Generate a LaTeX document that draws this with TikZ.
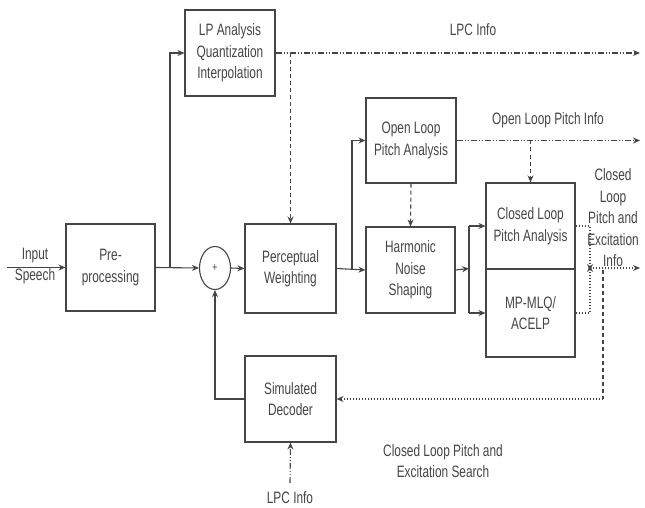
\documentclass[tikz,border=0pt]{standalone}
\usepackage{fontspec}
\setmainfont[FakeStretch=0.72]{Liberation Sans}
\usetikzlibrary{arrows.meta,shapes.geometric}
\definecolor{ink}{HTML}{454545}
\begin{document}
\begin{tikzpicture}[x=1pt,y=-1pt,
  every node/.style={font=\fontsize{16.5}{21.5}\selectfont,text=ink},
  blk/.style={draw=ink,line width=1.1pt,align=center,inner sep=0pt},
  lab/.style={align=center,inner sep=0pt},
  ln/.style={draw=ink,line width=1.1pt},
  arr/.style={ln,-{Stealth[length=7pt,width=6pt]}},
  ddot/.style={dash pattern=on 6pt off 2pt on 1pt off 2pt on 1pt off 2pt},
  dsh/.style={dash pattern=on 4pt off 3pt},
  dtt/.style={dash pattern=on 1.2pt off 1.8pt, line width=1.4pt}]
\useasboundingbox (0,0) rectangle (645,508);
% blocks
\node[blk,minimum width=89pt,minimum height=87pt] (pre) at (110.5,267.5) {Pre-\\processing};
\node[blk,minimum width=90pt,minimum height=86pt] (lp) at (230,53) {LP Analysis\\Quantization\\Interpolation};
\node[blk,minimum width=91pt,minimum height=89pt] (per) at (290.5,268.5) {Perceptual\\Weighting};
\node[blk,minimum width=90pt,minimum height=85pt] (ol) at (411,140.5) {Open Loop\\Pitch Analysis};
\node[blk,minimum width=89pt,minimum height=86pt] (hns) at (410.5,270) {Harmonic\\Noise\\Shaping};
\node[blk,minimum width=89pt,minimum height=86pt] (cl) at (530.5,226) {Closed Loop\\Pitch Analysis};
\node[blk,minimum width=89pt,minimum height=88pt] (mp) at (530.5,313) {MP-MLQ/\\ACELP};
\node[blk,minimum width=91pt,minimum height=86pt] (sd) at (290.5,399) {Simulated\\Decoder};
\node[draw=ink,line width=1.1pt,ellipse,minimum width=31pt,minimum height=43pt,inner sep=0pt,font=\fontsize{12}{12}\selectfont] (add) at (215,268) {+};
% labels
\node[lab] (lin) at (35,266) {Input\\Speech};
\node[lab] (llpc) at (473,30) {LPC Info};
\node[lab] (lolp) at (548,120) {Open Loop Pitch Info};
\node[lab] (lcl) at (613,218) {Closed\\Loop\\Pitch and\\Excitation\\Info};
\node[lab] (lsearch) at (443,461) {Closed Loop Pitch and\\Excitation Search};
\node[lab] (llpc2) at (290,498) {LPC Info};
% coordinates
\coordinate (inp) at (7,267.5);
\coordinate (b1) at (170,267.5);
\coordinate (lpcend) at (640,53);
\coordinate (b2) at (352,268.5);
\coordinate (olend) at (640,140.5);
\coordinate (b3) at (469,268.5);
\coordinate (b3t) at (469,226);
\coordinate (b3b) at (469,313);
\coordinate (jr) at (590,268);
\coordinate (clend) at (640,268);
\coordinate (dn) at (603,399);
\coordinate (lpcin) at (290,483);
% connectors
\draw[arr] (inp) -- (pre.west);
\draw[arr] (pre.east) -- (add.west);
\draw[arr] (b1) |- (lp.west);
\draw[arr] (add.east) -- (per.west);
\draw[arr,ddot] (lp.east) -- (lpcend);
\draw[arr,dsh] (per.north |- lp.east) -- (per.north);
\draw[arr] (per.east) -- (hns.west);
\draw[arr] (b2) |- (ol.west);
\draw[arr,dsh] (ol.south) -- (hns.north);
\draw[arr,ddot] (ol.east) -- (olend);
\draw[arr,dsh] (cl.north |- ol.east) -- (cl.north);
\draw[arr] (hns.east) -- (b3);
\draw[ln] (b3t) -- (b3b);
\draw[arr] (b3t) -- (cl.west);
\draw[arr] (b3b) -- (mp.west);
\draw[arr,dtt] (cl.east) -| ([yshift=-3pt]jr);
\draw[arr,dtt] (mp.east) -| ([yshift=3pt]jr);
\draw[arr,dtt] (jr) -- (clend);
\draw[ln,dsh] (603,270) -- (dn);
\draw[arr,dtt] (dn) -- (sd.east);
\draw[arr] (sd.west) -| (add.south);
\draw[arr,ddot] (lpcin) -- (sd.south);
\end{tikzpicture}
\end{document}
